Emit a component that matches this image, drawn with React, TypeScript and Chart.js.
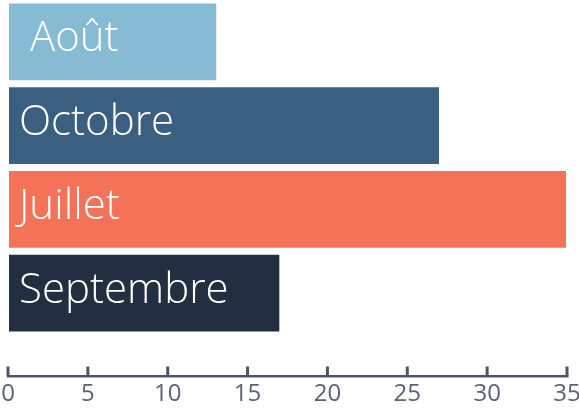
import React, { useEffect, useRef } from "react";
import { Chart, registerables } from "chart.js";

Chart.register(...registerables);

const categories: string[] = [" Août", "Octobre", "Juillet", "Septembre"];
const values: number[] = [13.1, 27.05, 35, 17.05];
const barColors: string[] = ["#87bbd3", "#3a5f80", "#f47358", "#212f40"];
const tickValues: number[] = [0, 5, 10, 15, 20, 25, 30, 35];

const FONT = "'Open Sans', sans-serif";

const axisPlugin = {
  id: "customAxis",
  afterDraw(chart: any) {
    const ctx = chart.ctx as CanvasRenderingContext2D;
    const xs = chart.scales.x;
    const lineY = 376.2;
    ctx.save();
    ctx.strokeStyle = "#4f5569";
    ctx.lineWidth = 2.5;
    ctx.beginPath();
    ctx.moveTo(xs.getPixelForValue(tickValues[0]) - 1, lineY);
    ctx.lineTo(xs.getPixelForValue(tickValues[tickValues.length - 1]) + 1.5, lineY);
    ctx.stroke();
    ctx.lineWidth = 3;
    for (const v of tickValues) {
      const px = xs.getPixelForValue(v);
      ctx.beginPath();
      ctx.moveTo(px, 366.5);
      ctx.lineTo(px, lineY);
      ctx.stroke();
    }
    ctx.restore();
  },
};

const labelPlugin = {
  id: "barLabels",
  afterDatasetsDraw(chart: any) {
    const ctx = chart.ctx as CanvasRenderingContext2D;
    const meta = chart.getDatasetMeta(0);
    ctx.save();
    ctx.fillStyle = "#ffffff";
    ctx.font = `300 42px ${FONT}`;
    ctx.textAlign = "left";
    ctx.textBaseline = "alphabetic";
    meta.data.forEach((bar: any, i: number) => {
      ctx.fillText(categories[i], chart.chartArea.left + 11, bar.y + 9.5);
    });
    ctx.restore();
  },
};

export default function App() {
  const ref = useRef<HTMLCanvasElement | null>(null);

  useEffect(() => {
    if (!ref.current) return;
    const chart = new Chart(ref.current, {
      type: "bar",
      data: {
        labels: categories,
        datasets: [
          {
            data: values,
            backgroundColor: barColors,
            borderColor: "rgba(255,255,255,0.45)",
            borderWidth: 1,
            borderSkipped: false,
            categoryPercentage: 1,
            barPercentage: 0.94,
          },
        ],
      },
      options: {
        indexAxis: "y",
        animation: false,
        responsive: false,
        layout: { padding: { left: 8, right: 12, top: -2, bottom: 0 } },
        plugins: {
          legend: { display: false },
          tooltip: { enabled: false },
        },
        scales: {
          y: { display: false },
          x: {
            type: "linear",
            min: 0,
            max: 35,
            grid: { display: false, drawTicks: false },
            border: { display: false },
            afterFit: (scale: any) => {
              scale.height = 74;
              scale.paddingLeft = 0;
              scale.paddingRight = 0;
            },
            ticks: {
              stepSize: 5,
              padding: 45,
              color: "#5b6277",
              font: { family: FONT, size: 24 },
              maxRotation: 0,
              autoSkip: false,
            },
          },
        },
      },
      plugins: [axisPlugin, labelPlugin],
    });
    return () => chart.destroy();
  }, []);

  return (
    <div style={{ position: "fixed", left: 0, top: 0, width: 579, height: 409, background: "#ffffff" }}>
      <canvas ref={ref} width={579} height={409} style={{ display: "block" }} />
    </div>
  );
}
